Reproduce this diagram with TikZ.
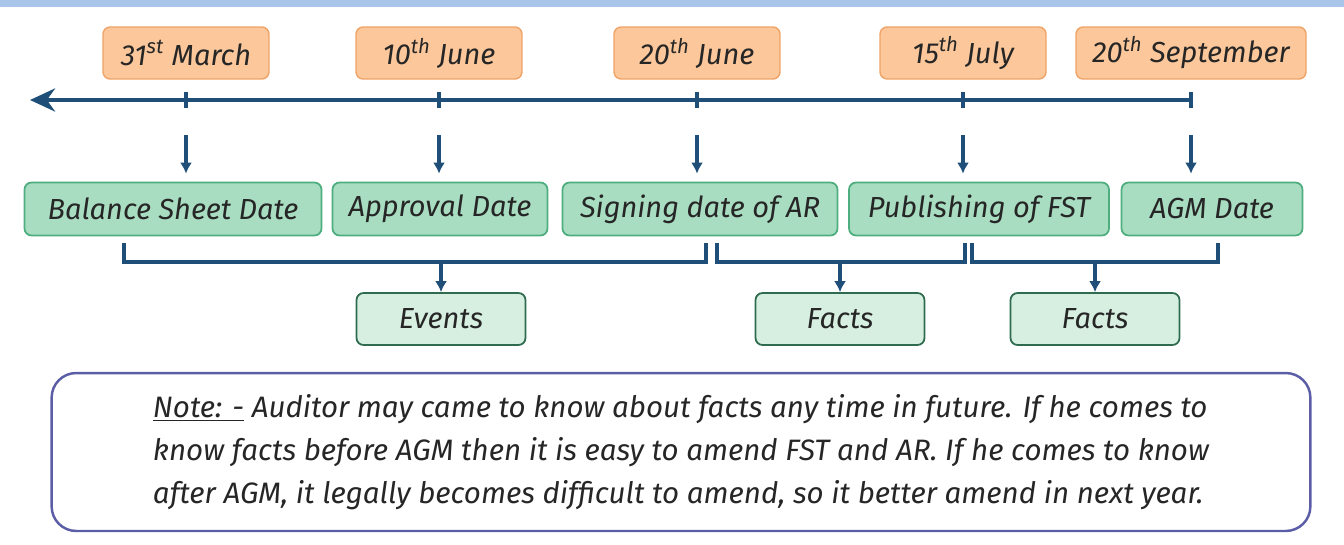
\documentclass[tikz,border=0pt]{standalone}
\usepackage{fontspec}
\setmainfont{Fira Sans}
\usetikzlibrary{arrows.meta, positioning, calc}
\definecolor{tlblue}{HTML}{1F4E79}
\definecolor{dtfill}{HTML}{FCC89B}
\definecolor{dtedge}{HTML}{EFA366}
\definecolor{evfill}{HTML}{A8DDC1}
\definecolor{evedge}{HTML}{4FAE7F}
\definecolor{rsfill}{HTML}{D6EFE0}
\definecolor{rsedge}{HTML}{2F6B4F}
\definecolor{noteedge}{HTML}{5B5EA6}
\definecolor{bandblue}{HTML}{A9C5EA}
\definecolor{txt}{HTML}{262626}
\tikzset{
  datebox/.style={rectangle, rounded corners=4pt, draw=dtedge, fill=dtfill, line width=0.8pt,
              text=txt, font=\fontsize{16.5}{19}\selectfont\itshape, minimum width=33.2mm, minimum height=10.4mm},
  eventbox/.style={rectangle, rounded corners=4pt, draw=evedge, fill=evfill, line width=1pt,
              text=txt, font=\fontsize{16.5}{19}\selectfont\itshape, minimum height=10.6mm},
  resbox/.style={rectangle, rounded corners=4pt, draw=rsedge, fill=rsfill, line width=1pt,
              text=txt, font=\fontsize{16.5}{19}\selectfont\itshape, minimum width=33.8mm, minimum height=10.4mm},
  tline/.style={-{Stealth[length=5mm, width=4.6mm]}, draw=tlblue, line width=2.4pt},
  tickmark/.style={draw=tlblue, line width=2pt},
  dn/.style={-{Latex[length=2.2mm, width=2.4mm]}, draw=tlblue, line width=1.8pt},
  brk/.style={draw=tlblue, line width=1.8pt},
}

\begin{document}
\begin{tikzpicture}[x=0.02cm,y=-0.02cm]
    \useasboundingbox (0,0) rectangle (1344,544);
    \fill[bandblue] (0,0) rectangle (1344,7);
    % dates along the top
    \node[datebox] (d1) at (186,53)  {31\textsuperscript{st} March};
    \node[datebox] (d2) at (439,53)  {10\textsuperscript{th} June};
    \node[datebox] (d3) at (697,53)  {20\textsuperscript{th} June};
    \node[datebox] (d4) at (963,53)  {15\textsuperscript{th} July};
    \node[datebox, minimum width=46mm] (d5) at (1191,53) {20\textsuperscript{th} September};
    % what happens on each date
    \node[eventbox, minimum width=59.4mm] (g1) at (173,209)  {Balance Sheet Date};
    \node[eventbox, minimum width=43mm]   (g2) at (440,209)  {Approval Date};
    \node[eventbox, minimum width=55mm]   (g3) at (700,209)  {Signing date of AR};
    \node[eventbox, minimum width=52mm]   (g4) at (979,209)  {Publishing of FST};
    \node[eventbox, minimum width=36.2mm] (g5) at (1212,209) {AGM Date};
    \node[resbox] (events) at (441,319)  {Events};
    \node[resbox] (facts1) at (840,319)  {Facts};
    \node[resbox] (facts2) at (1095,319) {Facts};
    % time line
    \coordinate (tl) at (30,100);
    \coordinate (tr) at (1193,100);
    \draw[tline] (tr) -- (tl);
    \foreach \d/\g in {d1/g1, d2/g2, d3/g3, d4/g4, d5/g5} {
      \draw[tickmark] (\d.south |- tl) ++(0,-8) -- ++(0,16);
      \draw[dn, shorten >=1.6mm] (\d.south |- tl) ++(0,35) -- (\d.south |- \g.north);
    }
    % brackets
    \coordinate (b1l) at (124,243);  \coordinate (b1r) at (706,243);
    \coordinate (b2l) at (717,243);  \coordinate (b2r) at (965,243);
    \coordinate (b3l) at (972,243);  \coordinate (b3r) at (1218,243);
    \draw[brk] (b1l) -- ++(0,19) -| (b1r);
    \draw[brk] (b2l) -- ++(0,19) -| (b2r);
    \draw[brk] (b3l) -- ++(0,19) -| (b3r);
    \draw[dn] (events.north |- 0,262) -- (events.north);
    \draw[dn] (facts1.north |- 0,262) -- (facts1.north);
    \draw[dn] (facts2.north |- 0,262) -- (facts2.north);
    % note
    \node[rectangle, rounded corners=14pt, draw=noteedge, line width=1.4pt, fill=white,
          minimum width=251.8mm, minimum height=31.6mm, text=txt, align=left,
          font=\fontsize{16.8}{24.5}\selectfont\itshape] (note) at (681,452)
      {\underline{Note: -} Auditor may came to know about facts any time in future. If he comes to\\
       know facts before AGM then it is easy to amend FST and AR. If he comes to know\\
       after AGM, it legally becomes difficult to amend, so it better amend in next year.};
\end{tikzpicture}
\end{document}
